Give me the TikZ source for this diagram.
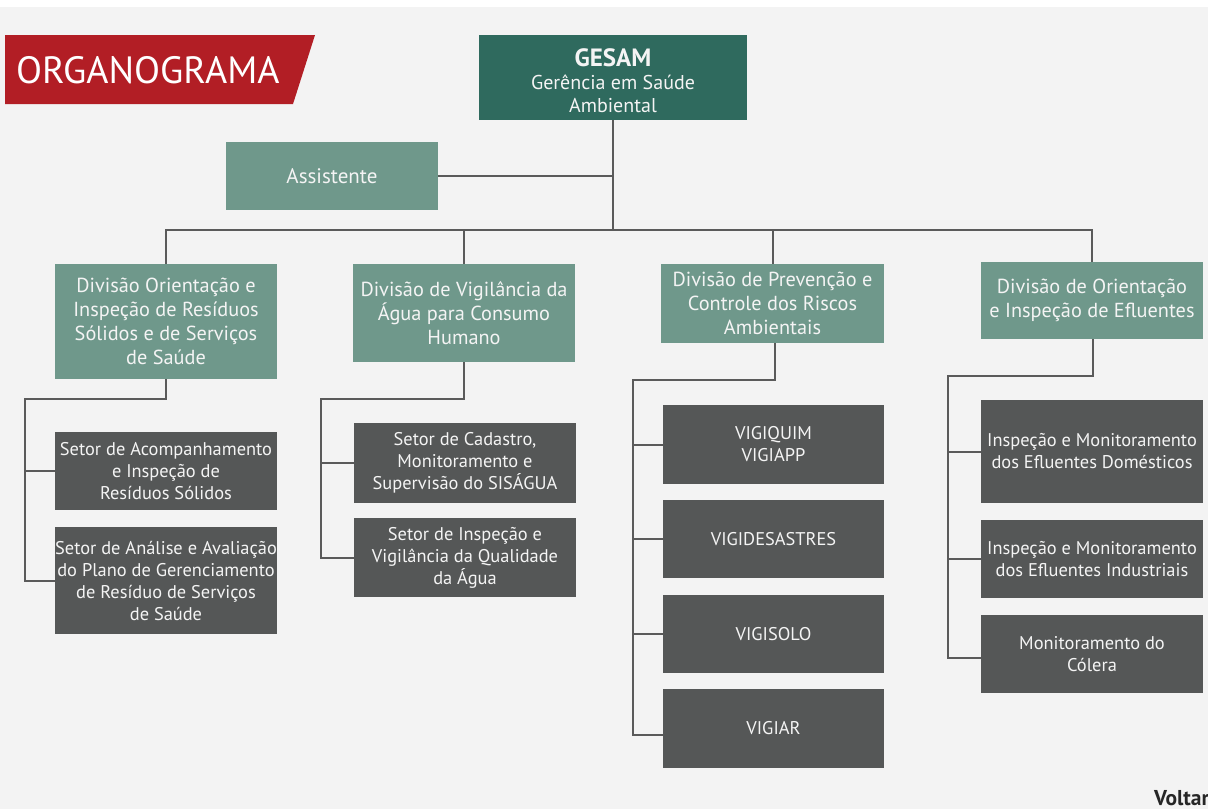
\documentclass[tikz,border=0pt]{standalone}
\usepackage{fontspec}
\setmainfont{PT Sans}
\definecolor{bgc}{HTML}{F3F3F3}
\definecolor{redc}{HTML}{B21E25}
\definecolor{topc}{HTML}{2F6A5E}
\definecolor{divc}{HTML}{6F988B}
\definecolor{subc}{HTML}{555757}
\definecolor{linec}{HTML}{5A5A5A}
\definecolor{txtc}{HTML}{F4F4F4}
\begin{document}
\begin{tikzpicture}[x=1pt,y=-1pt,
  box/.style={rectangle, inner sep=0pt, align=center, text=txtc, font=\fontsize{20.3}{24}\selectfont},
  topbox/.style={box, fill=topc, font=\fontsize{20}{23}\selectfont},
  divbox/.style={box, fill=divc},
  subbox/.style={box, fill=subc, font=\fontsize{18.4}{22}\selectfont},
  conn/.style={draw=linec, line width=2pt}]
\useasboundingbox (0,0) rectangle (1208,809);
\fill[bgc] (0,0) rectangle (1208,809);
\fill[white] (0,0) rectangle (1208,7);
% banner
\fill[redc] (5,35) -- (315,35) -- (293,104) -- (5,104) -- cycle;
\node[anchor=west, text=white, font=\fontsize{38}{40}\selectfont, inner sep=0pt] (title) at (16,70) {ORGANOGRAMA};
% top
\node[topbox, minimum width=268pt, minimum height=85pt] (gesam) at (613,77.5) {};
\node[box, font=\fontsize{20}{23}\selectfont] (gesamtext) at (613,80.5) {{\fontsize{25}{27}\selectfont\bfseries GESAM}\\[0pt]Gerência em Saúde\\Ambiental};
\node[divbox, minimum width=212pt, minimum height=68pt, font=\fontsize{21}{24}\selectfont] (assist) at (332,176) {Assistente};
% divisions
\node[divbox, minimum width=222pt, minimum height=115pt] (d1) at (166,321.5) {Divisão Orientação e\\Inspeção de Resíduos\\Sólidos e de Serviços\\de Saúde};
\node[divbox, minimum width=222pt, minimum height=98pt] (d2) at (464,313) {Divisão de Vigilância da\\Água para Consumo\\Humano};
\node[divbox, minimum width=223pt, minimum height=79pt] (d3) at (772.5,303.5) {Divisão de Prevenção e\\Controle dos Riscos\\Ambientais};
\node[divbox, minimum width=222pt, minimum height=77pt] (d4) at (1092,300.5) {Divisão de Orientação\\e Inspeção de Efluentes};
% sub boxes
\node[subbox, minimum width=222pt, minimum height=78pt] (s1) at (166,471) {Setor de Acompanhamento\\e Inspeção de\\Resíduos Sólidos};
\node[subbox, minimum width=222pt, minimum height=107pt] (s2) at (166,580.5) {Setor de Análise e Avaliação\\do Plano de Gerenciamento\\de Resíduo de Serviços\\de Saúde};
\node[subbox, minimum width=222pt, minimum height=80pt] (s3) at (465,463) {Setor de Cadastro,\\Monitoramento e\\Supervisão do SISÁGUA};
\node[subbox, minimum width=222pt, minimum height=79pt] (s4) at (465,557.5) {Setor de Inspeção e\\Vigilância da Qualidade\\da Água};
\node[subbox, minimum width=221pt, minimum height=79pt] (v1) at (773.5,444.5) {VIGIQUIM\\VIGIAPP};
\node[subbox, minimum width=221pt, minimum height=78pt] (v2) at (773.5,539) {VIGIDESASTRES};
\node[subbox, minimum width=221pt, minimum height=78pt] (v3) at (773.5,634) {VIGISOLO};
\node[subbox, minimum width=221pt, minimum height=79pt] (v4) at (773.5,728.5) {VIGIAR};
\node[subbox, minimum width=222pt, minimum height=103pt] (e1) at (1092,451.5) {Inspeção e Monitoramento\\dos Efluentes Domésticos};
\node[subbox, minimum width=222pt, minimum height=78pt] (e2) at (1092,559) {Inspeção e Monitoramento\\dos Efluentes Industriais};
\node[subbox, minimum width=222pt, minimum height=78pt] (e3) at (1092,654) {Monitoramento do\\Cólera};
\node[anchor=west, inner sep=0pt, font=\fontsize{21.5}{23}\selectfont\bfseries, text=black!85] (voltar) at (1154,798) {Voltar};
% coordinates
\coordinate (bc) at (613,230);
\coordinate (ba) at (613,176);
\coordinate (b1) at (166,230);
\coordinate (b2) at (464,230);
\coordinate (b3) at (772.5,230);
\coordinate (b4) at (1092,230);
% connectors top
\draw[conn] (gesam.south) -- (bc);
\draw[conn] (assist.east) -- (ba);
\draw[conn] (d1.north) -- (b1) -- (b4) -- (d4.north);
\draw[conn] (b2) -- (d2.north);
\draw[conn] (b3) -- (d3.north);
% branch 1
\coordinate (k1a) at (166,399);
\coordinate (k1b) at (25,399);
\coordinate (k1c) at (25,580.5);
\draw[conn] (d1.south) -- (k1a) -- (k1b) -- (k1c) -- (s2.west);
\draw[conn] (s1.west -| k1b) -- (s1.west);
% branch 2
\coordinate (k2a) at (464,399);
\coordinate (k2b) at (321,399);
\coordinate (k2c) at (321,557.5);
\draw[conn] (d2.south) -- (k2a) -- (k2b) -- (k2c) -- (s4.west);
\draw[conn] (s3.west -| k2b) -- (s3.west);
% branch 3
\coordinate (k3a) at (775,380);
\coordinate (k3b) at (633,380);
\coordinate (k3c) at (633,735);
\draw[conn] (775,343) -- (k3a) -- (k3b) -- (k3c) -- (v4.west |- k3c);
\draw[conn] (v1.west -| k3b) -- (v1.west);
\draw[conn] (v2.west -| k3b) -- (v2.west);
\draw[conn] (v3.west -| k3b) -- (v3.west);
% branch 4
\coordinate (k4a) at (1093,376);
\coordinate (k4b) at (948,376);
\coordinate (k4c) at (948,658);
\draw[conn] (1093,339) -- (k4a) -- (k4b) -- (k4c) -- (e3.west |- k4c);
\draw[conn] (e1.west -| k4b) -- (e1.west);
\draw[conn] (e2.west -| k4b) -- (e2.west);
\end{tikzpicture}
\end{document}
